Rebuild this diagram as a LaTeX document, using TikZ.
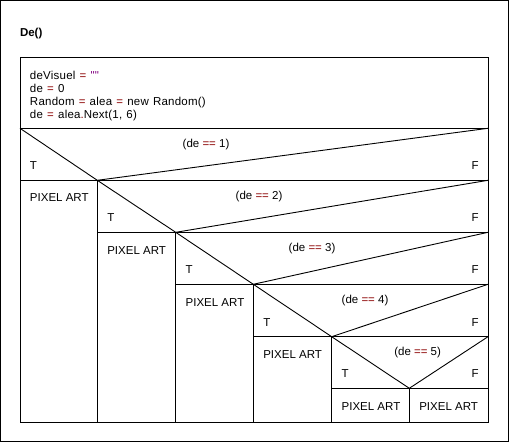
\documentclass[tikz,border=0pt]{standalone}
\usepackage{fontspec}
\setmainfont{Liberation Sans}
\newfontfamily\codefont[LetterSpace=2]{Liberation Sans}
\definecolor{op}{HTML}{8B0000}
\definecolor{str}{HTML}{800080}
\newcommand{\eq}{\textcolor{op}{=}}
\newcommand{\eqeq}{\textcolor{op}{==}}
\newcommand{\codesetup}{\codefont\fontsize{11.5}{12.9}\selectfont\spaceskip 4.2pt\relax}
\begin{document}
\begin{tikzpicture}[x=1pt,y=-1pt,
  line/.style={draw=black,line width=0.9pt},
  txt/.style={anchor=base west,inner sep=0pt,outer sep=0pt,font=\fontsize{11.5}{12.9}\selectfont},
  code/.style={txt,font=\codesetup},
  lbl/.style={txt},
  cond/.style={txt}]
\useasboundingbox (0,0) rectangle (509,442);
% outer frame
\draw[line] (0.6,0.6) rectangle (508.4,441.4);
\node[txt,font=\fontsize{11.5}{13}\selectfont\bfseries] (title) at (20,36.7) {De()};
% main box
\draw[line] (20,57) rectangle (488,422);
\draw[line] (20,128.3) -- (488,128.3);
% statements
\node[code] (s1) at (30,79.3) {deVisuel \eq{} \textcolor{str}{""}};
\node[code] (s2) at (30,92.2) {de \eq{} 0};
\node[code] (s3) at (30,105.1) {Random \eq{} alea \eq{} new Random()};
\node[code] (s4) at (30,118) {de \eq{} alea\textcolor{op}{.}Next(1, 6)};
% decision rows
\foreach \i/\xl/\xs/\yt/\yb/\cx in {1/20/97.3/128.3/180.3/182.7,
                                    2/97.3/175.7/180.3/232.3/235.7,
                                    3/175.7/253.3/232.3/284.3/288.7,
                                    4/253.3/331.7/284.3/336.7/341.7,
                                    5/331.7/409.3/336.7/388.3/394.3}{
  \draw[line] (\xl,\yb) -- (488,\yb);
  \draw[line] (\xl,\yt) -- (\xs,\yb) -- (488,\yt);
  \node[cond] (c\i) at (\cx,\yt+18.7) {(de \eqeq{} \i)};
  \node[lbl] (t\i) at (\xl+10,\yb-10.5) {T};
  \node[lbl] (f\i) at (471.7,\yb-10.5) {F};
}
% column separators
\draw[line] (97.3,180.3) -- (97.3,422);
\draw[line] (175.7,232.3) -- (175.7,422);
\draw[line] (253.3,284.3) -- (253.3,422);
\draw[line] (331.7,336.7) -- (331.7,422);
\draw[line] (409.3,388.3) -- (409.3,422);
% pixel art
\node[txt] (p1) at (30,201.8) {PIXEL ART};
\node[txt] (p2) at (107.3,254.5) {PIXEL ART};
\node[txt] (p3) at (185.7,306.5) {PIXEL ART};
\node[txt] (p4) at (263.3,358.5) {PIXEL ART};
\node[txt] (p5) at (341.7,410.7) {PIXEL ART};
\node[txt] (p6) at (419.3,410.7) {PIXEL ART};
\end{tikzpicture}
\end{document}
